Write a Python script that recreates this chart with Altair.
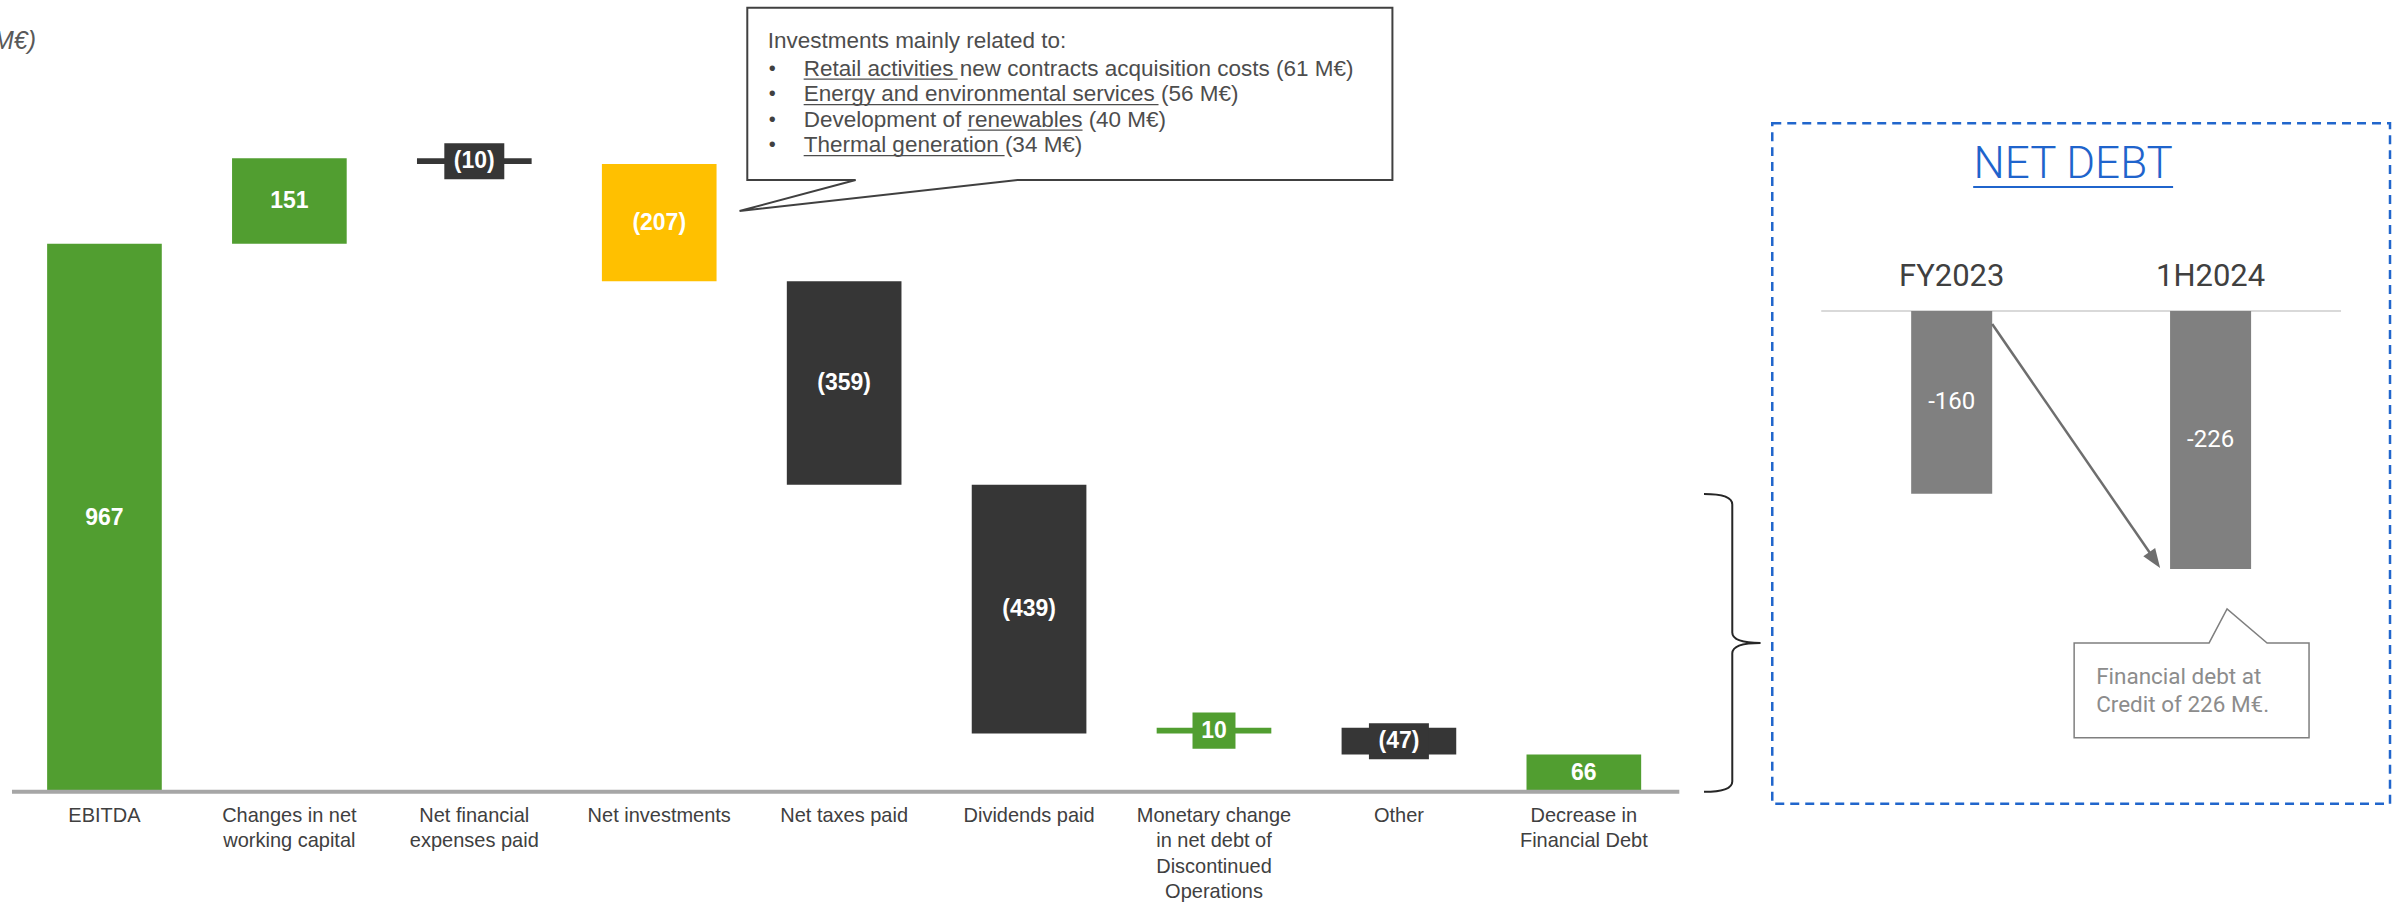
import altair as alt
import pandas as pd

# ---------------- data ----------------
categories = [
    "EBITDA",
    "Changes in net\nworking capital",
    "Net financial\nexpenses paid",
    "Net investments",
    "Net taxes paid",
    "Dividends paid",
    "Monetary change\nin net debt of\nDiscontinued\nOperations",
    "Other",
    "Decrease in\nFinancial Debt",
]
values = [967, 151, -10, -207, -359, -439, 10, -47, 66]
labels = ["967", "151", "(10)", "(207)", "(359)", "(439)", "10", "(47)", "66"]
is_total = [True, False, False, False, False, False, False, False, True]
highlight = "Net investments"
boxed_wide = ["Net financial\nexpenses paid", "Other"]
boxed_narrow = ["Monetary change\nin net debt of\nDiscontinued\nOperations"]

nd_periods = ["FY2023", "1H2024"]
nd_values = [-160, -226]

callout_title = "Investments mainly related to:"
callout_items = [
    "Retail activities new contracts acquisition costs (61 M€)",
    "Energy and environmental services (56 M€)",
    "Development of renewables (40 M€)",
    "Thermal generation (34 M€)",
]
nd_title = "NET DEBT"
nd_note = ["Financial debt at", "Credit of 226 M€."]
unit_label = "(M€)"

# ---------------- derived table ----------------
rows = []
running = 0
for c, v, l, t in zip(categories, values, labels, is_total):
    if t:
        s, e = 0, v
    else:
        s, e = running, running + v
    running = e
    rows.append({"cat": c, "value": v, "label": l, "start": s, "end": e, "mid": (s + e) / 2})
df = pd.DataFrame(rows)

GREEN, DARK, YELLOW = "#519E30", "#363636", "#FFC000"
df["color"] = [YELLOW if c == highlight else (GREEN if v >= 0 else DARK) for c, v in zip(df.cat, df.value)]

nd = pd.DataFrame({"period": nd_periods, "value": nd_values})
nd["zero"] = 0
nd["half"] = nd["value"] / 2
nd["txt"] = [str(v) for v in nd_values]

one = pd.DataFrame({"a": [0]})
A = alt.Chart(one)

LEFT_W = 1765
RIGHT_W = 2405 - LEFT_W
H = 903

# ---------------- main waterfall ----------------
xs = alt.Scale(domain=categories, range=[12, 1677], paddingInner=0.38, paddingOuter=0.19)
ys = alt.Scale(domain=[0, 1300], range=[792, 55], nice=False, zero=False)
X = alt.X("cat:N", scale=xs, axis=None, sort=None)
YM = alt.Y("mid:Q", scale=ys, axis=None)

base = alt.Chart(df)
bars = base.mark_bar().encode(
    x=X,
    y=alt.Y("start:Q", scale=ys, axis=None),
    y2="end:Q",
    color=alt.Color("color:N", scale=None),
)

wide_path = "M-1,-0.6L1,-0.6L1,0.6L-1,0.6Z"
narrow_path = "M-1,-0.84L1,-0.84L1,0.84L-1,0.84Z"
box_w = base.transform_filter(alt.FieldOneOfPredicate(field="cat", oneOf=boxed_wide)).mark_point(
    shape=wide_path, filled=True, opacity=1, size=3600, strokeWidth=0
).encode(x=X, y=YM, color=alt.Color("color:N", scale=None))
box_n = base.transform_filter(alt.FieldOneOfPredicate(field="cat", oneOf=boxed_narrow)).mark_point(
    shape=narrow_path, filled=True, opacity=1, size=1849, strokeWidth=0
).encode(x=X, y=YM, color=alt.Color("color:N", scale=None))

bar_txt = base.mark_text(
    color="white", font="Liberation Sans", fontWeight="bold", fontSize=23, baseline="middle"
).encode(x=X, y=YM, text="label:N")

cat_txt = base.mark_text(
    color="#404040", font="Liberation Sans", fontSize=20, baseline="top", lineBreak="\n", lineHeight=25.5
).encode(x=X, y=alt.value(806), text="cat:N")

axis_line = A.mark_rule(color="#A6A6A6", strokeWidth=4).encode(
    x=alt.value(12), x2=alt.value(1680), y=alt.value(792)
)

ann = []
ann.append(A.mark_text(text=unit_label, align="right", baseline="middle", font="Liberation Sans",
                       fontStyle="italic", fontSize=25, color="#595959", clip=True).encode(x=alt.value(36), y=alt.value(41)))
bubble = "M-1,-0.267L1,-0.267L1,0.267L-0.162,0.267L-1.024,0.363L-0.664,0.267L-1,0.267Z"
ann.append(A.mark_point(shape=bubble, filled=True, fill="white", stroke="#404040", strokeWidth=2,
                        opacity=1, size=416541).encode(x=alt.value(1070.3), y=alt.value(93.75)))
CF = dict(font="Liberation Sans", fontSize=22.5, color="#4D4D4D", align="left", baseline="middle")
ann.append(A.mark_text(text=callout_title, **CF).encode(x=alt.value(768), y=alt.value(41)))
item_y = [68.5, 94, 119.5, 145]
for t, yy in zip(callout_items, item_y):
    ann.append(A.mark_text(text="•", align="left", baseline="middle", font="Liberation Sans", fontSize=20,
                           color="#404040").encode(x=alt.value(769), y=alt.value(yy)))
    ann.append(A.mark_text(text=t, **CF).encode(x=alt.value(804), y=alt.value(yy)))
for (x1, x2, yy) in [(804, 958, 79), (804, 1159, 104.5), (968, 1083, 130), (804, 1005, 155.5)]:
    ann.append(A.mark_rule(color="#4D4D4D", strokeWidth=1.2).encode(
        x=alt.value(x1), x2=alt.value(x2), y=alt.value(yy)))
brace = "M-0.19,-1Q0,-1 0,-0.93L0,-0.07Q0,0 0.19,0Q0,0 0,0.07L0,0.93Q0,1 -0.19,1"
ann.append(A.mark_point(shape=brace, filled=False, stroke="#262626", strokeWidth=2, opacity=1,
                        size=88804).encode(x=alt.value(1733), y=alt.value(643)))

left = alt.layer(bars, box_w, box_n, bar_txt, cat_txt, axis_line, *ann).properties(width=LEFT_W, height=H)

# ---------------- net debt panel ----------------
o = LEFT_W
xs2 = alt.Scale(domain=nd_periods, range=[1822 - o, 2340 - o], paddingInner=0.687, paddingOuter=0.3435)
ys2 = alt.Scale(domain=[-300, 0], range=[653.5, 311], nice=False, zero=False)
X2 = alt.X("period:N", scale=xs2, axis=None, sort=None)
ndb = alt.Chart(nd)
nd_bars = ndb.mark_bar(color="#808080").encode(
    x=X2, y=alt.Y("zero:Q", scale=ys2, axis=None), y2="value:Q"
)
nd_line = A.mark_rule(color="#D9D9D9", strokeWidth=2).encode(
    x=alt.value(1821 - o), x2=alt.value(2341 - o), y=alt.value(311)
)
nd_per = ndb.mark_text(color="#404040", font="Roboto", fontSize=31, baseline="middle").encode(
    x=X2, y=alt.value(277), text="period:N"
)
nd_val = ndb.mark_text(color="white", font="Roboto", fontSize=24, baseline="middle").encode(
    x=X2, y=alt.Y("half:Q", scale=ys2, axis=None), text="txt:N"
)

ann2 = []
ann2.append(A.mark_rect(fill="transparent", stroke="#2166CC", strokeWidth=2.5, strokeDash=[9, 6]).encode(
    x=alt.value(1772 - o), x2=alt.value(2390 - o), y=alt.value(123), y2=alt.value(804)))
ann2.append(A.mark_text(text=nd_title, align="center", baseline="middle", font="Roboto", fontWeight=300,
                        fontSize=44, color="#1F64CC").encode(x=alt.value(2073 - o), y=alt.value(165)))
ann2.append(A.mark_rule(color="#1F64CC", strokeWidth=2).encode(
    x=alt.value(1973 - o), x2=alt.value(2173 - o), y=alt.value(187)))
ann2.append(A.mark_rule(color="#6E6E6E", strokeWidth=2.5).encode(
    x=alt.value(1992 - o), y=alt.value(324), x2=alt.value(2154 - o), y2=alt.value(559)))
ann2.append(A.mark_point(shape="M0,-1L0.6,0.6L-0.6,0.6Z", filled=True, fill="#6E6E6E", opacity=1,
                         strokeWidth=0, size=576, angle=145.5).encode(x=alt.value(2153.2 - o), y=alt.value(558.1)))
note_bubble = "M-1,-0.404L0.149,-0.404L0.302,-0.694L0.643,-0.404L1,-0.404L1,0.404L-1,0.404Z"
ann2.append(A.mark_point(shape=note_bubble, filled=True, fill="white", stroke="#7F7F7F", strokeWidth=1.5,
                         opacity=1, size=55225).encode(x=alt.value(2191.5 - o), y=alt.value(690.5)))
for t, yy in zip(nd_note, [677, 705]):
    ann2.append(A.mark_text(text=t, align="left", baseline="middle", font="Roboto", fontSize=22.5,
                            color="#8C8C8C").encode(x=alt.value(2096 - o), y=alt.value(yy)))

right = alt.layer(nd_line, nd_bars, nd_per, nd_val, *ann2).properties(width=RIGHT_W, height=H)

chart = alt.hconcat(left, right, spacing=0).properties(
    padding=0, background="white"
).configure_view(stroke=None)

chart.save("out.html", embed_options={"renderer": "svg", "actions": False})
